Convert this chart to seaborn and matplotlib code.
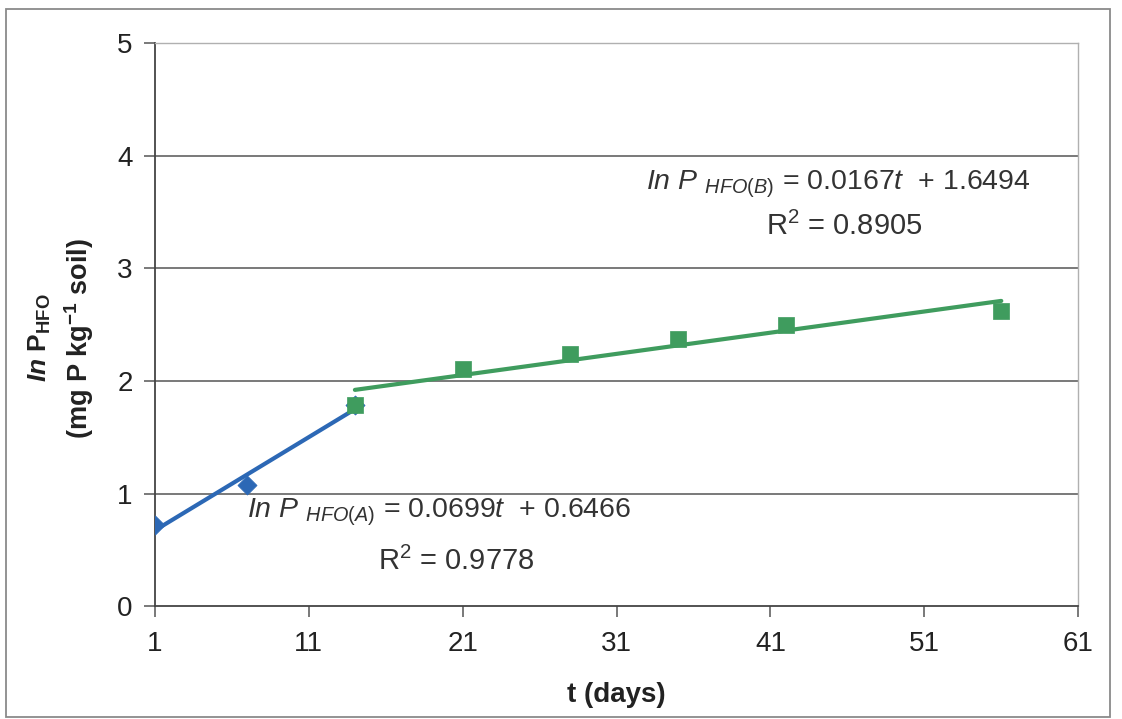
import matplotlib
matplotlib.use("Agg")
import matplotlib.pyplot as plt
import seaborn as sns
import pandas as pd
from matplotlib.patches import Rectangle

# Data
t_a = [1, 7, 14]
y_a = [0.72, 1.08, 1.79]
t_b = [14, 21, 28, 35, 42, 56]
y_b = [1.79, 2.11, 2.24, 2.37, 2.50, 2.62]
x_ticks = [1, 11, 21, 31, 41, 51, 61]
y_ticks = [0, 1, 2, 3, 4, 5]
eq_a = r"$\mathit{In\ P}\ _{\mathit{HFO(A)}}$ = 0.0699$\mathit{t}$  + 0.6466"
r2_a = r"R$^{2}$ = 0.9778"
eq_b = r"$\mathit{In\ P}\ _{\mathit{HFO(B)}}$ = 0.0167$\mathit{t}$  + 1.6494"
r2_b = r"R$^{2}$ = 0.8905"

blue = "#2c68b5"
green = "#3f9c5e"

sns.set_theme(style="white")
plt.rcParams["font.family"] = ["Liberation Sans", "DejaVu Sans"]
plt.rcParams["mathtext.fontset"] = "custom"
plt.rcParams["mathtext.rm"] = "Liberation Sans"
plt.rcParams["mathtext.it"] = "Liberation Sans:italic"
plt.rcParams["mathtext.bf"] = "Liberation Sans:bold"
plt.rcParams["mathtext.bfit"] = "Liberation Sans:bold:italic"

df_a = pd.DataFrame({"t": t_a, "y": y_a})
df_b = pd.DataFrame({"t": t_b, "y": y_b})

fig = plt.figure(figsize=(11.22, 7.19), dpi=100)
ax = fig.add_axes([0.138, 0.157, 0.823, 0.783])

# frame around chart area
fig.patches.append(Rectangle((0.005, 0.003), 0.984, 0.985, transform=fig.transFigure,
                             fill=False, edgecolor="#8a8a8a", linewidth=1.3))

for yv in y_ticks[1:]:
    ax.axhline(yv, color="#555555", linewidth=1.1, zorder=0)

sns.regplot(data=df_a, x="t", y="y", ci=None, scatter=False, truncate=True,
            line_kws={"color": blue, "linewidth": 3.0, "zorder": 3}, ax=ax)
sns.regplot(data=df_b, x="t", y="y", ci=None, scatter=False, truncate=True,
            line_kws={"color": green, "linewidth": 3.0, "zorder": 3}, ax=ax)
sns.scatterplot(data=df_a, x="t", y="y", marker="D", s=95, color=blue,
                edgecolor=blue, linewidth=0.5, zorder=4, ax=ax, legend=False)
sns.scatterplot(data=df_b, x="t", y="y", marker="s", s=130, color=green,
                edgecolor=green, linewidth=0.5, zorder=5, ax=ax, legend=False)

ax.set_xlim(1, 61)
ax.set_ylim(0, 5)
ax.set_xticks(x_ticks)
ax.set_yticks(y_ticks)
ax.tick_params(axis="both", which="major", labelsize=20, length=8, width=1.1,
               color="#555555", labelcolor="#222222", direction="out",
               bottom=True, left=True)
ax.tick_params(axis="x", pad=10)
ax.tick_params(axis="y", pad=8)

for side in ["left", "bottom"]:
    ax.spines[side].set_color("#444444")
    ax.spines[side].set_linewidth(1.3)
for side in ["top", "right"]:
    ax.spines[side].set_color("#b0b0b0")
    ax.spines[side].set_linewidth(1.0)
    ax.spines[side].set_linestyle((0, (2, 1)))

ax.set_xlabel("t (days)", fontsize=20, fontweight="bold", color="#222222", labelpad=18)
ax.set_ylabel("")

# y-axis title, two lines
fig.text(40 / 1122, 1 - 338 / 719, r"$\mathbfit{In}$ $\mathbf{P}_{\mathbf{HFO}}$",
         rotation=90, ha="center", va="center", fontsize=19, fontweight="bold",
         color="#222222")
fig.text(79 / 1122, 1 - 338 / 719, r"(mg P kg$^{\mathbf{-1}}$ soil)",
         rotation=90, ha="center", va="center", fontsize=19.5, fontweight="bold",
         color="#222222")

ax.text(7.0, 0.83, eq_a, fontsize=20.5, color="#333333", ha="left", va="center")
ax.text(20.6, 0.40, r2_a, fontsize=21, color="#333333", ha="center", va="center")
ax.text(32.9, 3.75, eq_b, fontsize=20.5, color="#333333", ha="left", va="center")
ax.text(45.8, 3.37, r2_b, fontsize=21, color="#333333", ha="center", va="center")

fig.savefig("out.png", dpi=100)
